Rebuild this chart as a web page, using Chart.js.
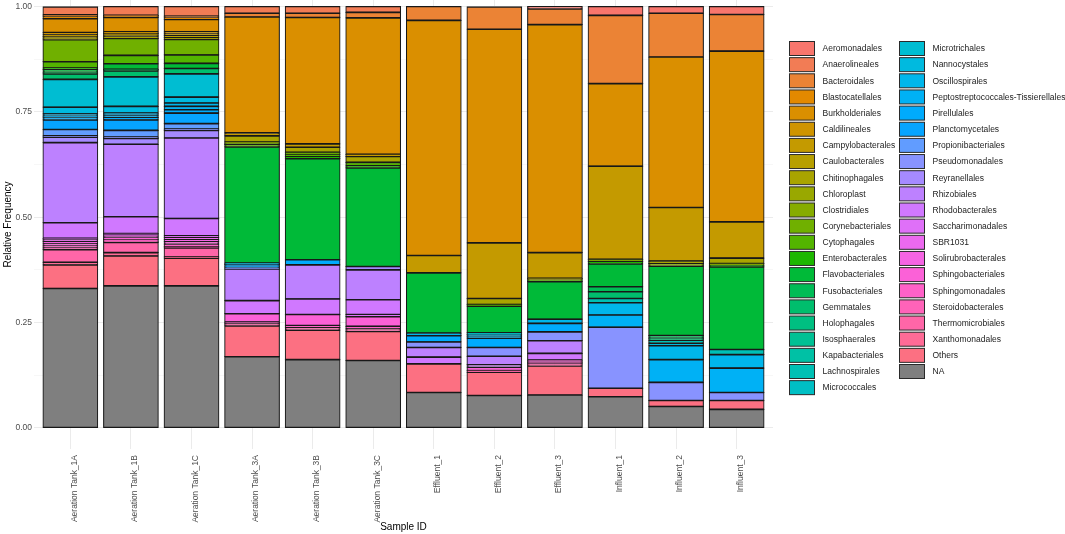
<!DOCTYPE html>
<html>
<head>
<meta charset="utf-8">
<script src="https://cdn.jsdelivr.net/npm/chart.js@4.4.1/dist/chart.umd.min.js"></script>
<style>
html,body{margin:0;padding:0;background:#ffffff;}
#wrap{width:1065px;height:534px;position:relative;overflow:hidden;}
canvas{display:block;}
</style>
</head>
<body>
<div id="wrap"><canvas id="c" width="1065" height="534" style="width:1065px;height:534px"></canvas></div>
<script>
// ---------------- DATA ----------------
const samples = ["Aeration Tank_1A","Aeration Tank_1B","Aeration Tank_1C","Aeration Tank_3A","Aeration Tank_3B","Aeration Tank_3C","Effluent_1","Effluent_2","Effluent_3","Influent_1","Influent_2","Influent_3"];

const yTickValues = [0, 0.25, 0.5, 0.75, 1];
const yTickLabels = ["0.00", "0.25", "0.50", "0.75", "1.00"];
const yMinorValues = [0.125, 0.375, 0.625, 0.875];

//                        1A     1B     1C     3A     3B     3C     E1     E2     E3     I1     I2     I3
const Aeromonadales       = [0,     0,     0,     0,     0,     0,     0,     0,     0.006, 0.021, 0.016, 0.019];
const Anaerolineales      = [0.019, 0.021, 0.023, 0.016, 0.016, 0.014, 0,     0,     0,     0,     0,     0];
const Bacteroidales       = [0.003, 0.002, 0.004, 0.009, 0.010, 0.013, 0.033, 0.053, 0.037, 0.162, 0.104, 0.087];
const Blastocatellales    = [0.006, 0.003, 0.004, 0,     0,     0,     0,     0,     0,     0,     0,     0];
const Burkholderiales     = [0.033, 0.034, 0.029, 0.275, 0.300, 0.324, 0.558, 0.507, 0.541, 0.196, 0.357, 0.405];
const Caldilineales       = [0.005, 0.004, 0.005, 0,     0,     0,     0,     0,     0,     0,     0,     0];
const Campylobacterales   = [0.004, 0.004, 0.004, 0.007, 0.008, 0.005, 0.041, 0.132, 0.061, 0.221, 0.127, 0.086];
const Caulobacterales     = [0.004, 0.004, 0.005, 0,     0,     0,     0,     0,     0,     0,     0,     0];
const Chitinophagales     = [0.004, 0.004, 0.004, 0.014, 0.012, 0.014, 0,     0.014, 0.004, 0,     0.006, 0.013];
const Chloroplast         = [0,     0,     0,     0.003, 0,     0,     0,     0,     0,     0,     0,     0];
const Clostridiales       = [0,     0,     0,     0,     0,     0,     0,     0,     0,     0.005, 0.006, 0.004];
const Corynebacteriales   = [0.052, 0.040, 0.037, 0.004, 0.005, 0,     0,     0,     0,     0,     0,     0];
const Cytophagales        = [0.015, 0.020, 0.020, 0.005, 0.005, 0.008, 0,     0.004, 0.004, 0,     0,     0];
const Enterobacterales    = [0.004, 0,     0,     0,     0.005, 0.005, 0,     0,     0,     0.006, 0,     0.004];
const Flavobacteriales    = [0.006, 0.013, 0.012, 0.276, 0.240, 0.234, 0.143, 0.063, 0.089, 0.054, 0.165, 0.196];
const Fusobacteriales     = [0.004, 0.004, 0,     0,     0,     0,     0,     0,     0,     0.012, 0.006, 0];
const Gemmatales          = [0.013, 0.014, 0.013, 0,     0,     0,     0,     0,     0,     0.016, 0.005, 0];
const Holophagales        = [0,     0,     0,     0,     0,     0,     0,     0,     0,     0,     0,     0];
const Isosphaerales       = [0,     0,     0,     0,     0,     0,     0,     0,     0,     0,     0,     0];
const Kapabacteriales     = [0,     0,     0,     0,     0,     0,     0,     0,     0,     0,     0,     0];
const Lachnospirales      = [0,     0,     0,     0,     0,     0,     0,     0,     0,     0.010, 0.007, 0.012];
const Micrococcales       = [0,     0,     0,     0,     0,     0,     0,     0.004, 0,     0,     0,     0];
const Microtrichales      = [0.066, 0.070, 0.055, 0,     0,     0,     0,     0,     0,     0,     0,     0];
const Nannocystales       = [0.016, 0.016, 0.014, 0.003, 0,     0,     0,     0.004, 0,     0,     0.006, 0];
const Oscillospirales     = [0.005, 0.005, 0.008, 0,     0,     0,     0.006, 0.005, 0.010, 0.029, 0.033, 0.032];
const Peptostreptococcales_Tissierellales = [0.004, 0.005, 0.008, 0, 0, 0, 0, 0, 0, 0.029, 0.054, 0.058];
const Pirellulales        = [0.005, 0.006, 0.008, 0.004, 0.012, 0,     0.015, 0.022, 0.020, 0,     0,     0];
const Planctomycetales    = [0.023, 0.025, 0.025, 0.004, 0,     0,     0,     0,     0,     0,     0,     0];
const Propionibacteriales = [0.015, 0.016, 0.013, 0,     0,     0,     0,     0,     0,     0,     0,     0];
const Pseudomonadales     = [0.003, 0.003, 0.003, 0.003, 0,     0,     0.013, 0.021, 0.021, 0.145, 0.043, 0.019];
const Reyranellales       = [0.013, 0.014, 0.018, 0,     0,     0.008, 0,     0,     0,     0,     0,     0];
const Rhizobiales         = [0.190, 0.172, 0.191, 0.075, 0.081, 0.071, 0.023, 0.020, 0.030, 0,     0,     0];
const Rhodobacterales     = [0.037, 0.040, 0.041, 0.031, 0.037, 0.035, 0.016, 0.006, 0.016, 0,     0,     0];
const Saccharimonadales   = [0.004, 0.003, 0.004, 0,     0,     0.005, 0,     0,     0,     0,     0,     0];
const SBR1031             = [0.004, 0.003, 0.005, 0,     0,     0,     0,     0,     0,     0,     0,     0];
const Solirubrobacterales = [0.005, 0.004, 0.005, 0,     0,     0,     0,     0,     0,     0,     0,     0];
const Sphingobacteriales  = [0.005, 0.004, 0.006, 0.020, 0.026, 0.023, 0,     0.008, 0.005, 0,     0,     0];
const Sphingomonadales    = [0.005, 0.004, 0.006, 0.004, 0.005, 0.006, 0,     0,     0.004, 0,     0,     0];
const Steroidobacterales  = [0.004, 0.003, 0.003, 0,     0,     0,     0,     0,     0,     0,     0,     0];
const Thermomicrobiales   = [0.030, 0.024, 0.021, 0.005, 0.006, 0.006, 0,     0.004, 0.005, 0,     0,     0];
const Xanthomonadales     = [0.006, 0.008, 0.003, 0,     0,     0,     0,     0,     0,     0,     0,     0];
const Others              = [0.056, 0.071, 0.066, 0.073, 0.070, 0.069, 0.068, 0.055, 0.069, 0.020, 0.014, 0.021];
const NA                  = [0.331, 0.337, 0.337, 0.169, 0.162, 0.160, 0.084, 0.077, 0.078, 0.074, 0.051, 0.044];

// legend order (top of stack first)
const taxa = [
  ["Aeromonadales", Aeromonadales], ["Anaerolineales", Anaerolineales], ["Bacteroidales", Bacteroidales],
  ["Blastocatellales", Blastocatellales], ["Burkholderiales", Burkholderiales], ["Caldilineales", Caldilineales],
  ["Campylobacterales", Campylobacterales], ["Caulobacterales", Caulobacterales], ["Chitinophagales", Chitinophagales],
  ["Chloroplast", Chloroplast], ["Clostridiales", Clostridiales], ["Corynebacteriales", Corynebacteriales],
  ["Cytophagales", Cytophagales], ["Enterobacterales", Enterobacterales], ["Flavobacteriales", Flavobacteriales],
  ["Fusobacteriales", Fusobacteriales], ["Gemmatales", Gemmatales], ["Holophagales", Holophagales],
  ["Isosphaerales", Isosphaerales], ["Kapabacteriales", Kapabacteriales], ["Lachnospirales", Lachnospirales],
  ["Micrococcales", Micrococcales], ["Microtrichales", Microtrichales], ["Nannocystales", Nannocystales],
  ["Oscillospirales", Oscillospirales], ["Peptostreptococcales-Tissierellales", Peptostreptococcales_Tissierellales],
  ["Pirellulales", Pirellulales], ["Planctomycetales", Planctomycetales], ["Propionibacteriales", Propionibacteriales],
  ["Pseudomonadales", Pseudomonadales], ["Reyranellales", Reyranellales], ["Rhizobiales", Rhizobiales],
  ["Rhodobacterales", Rhodobacterales], ["Saccharimonadales", Saccharimonadales], ["SBR1031", SBR1031],
  ["Solirubrobacterales", Solirubrobacterales], ["Sphingobacteriales", Sphingobacteriales],
  ["Sphingomonadales", Sphingomonadales], ["Steroidobacterales", Steroidobacterales],
  ["Thermomicrobiales", Thermomicrobiales], ["Xanthomonadales", Xanthomonadales], ["Others", Others],
  ["NA", NA]
];

// ---------------- STYLE ----------------
// ggplot2-like hue palette (hcl, c=100, l=65)
function hcl2hex(h, c, l) {
  const hr = h * Math.PI / 180;
  const U = c * Math.cos(hr), V = c * Math.sin(hr);
  const WY = 100, Wu = 0.1978398, Wv = 0.4683363;
  const Y = WY * (l > 7.999592 ? Math.pow((l + 16) / 116, 3) : l / 903.3);
  const u = U / (13 * l) + Wu, v = V / (13 * l) + Wv;
  const X = 9.0 * Y * u / (4 * v);
  const Z = -X / 3 - 5 * Y + 3 * Y / v;
  const g = t => t > 0.00304 ? 1.055 * Math.pow(t, 1 / 2.4) - 0.055 : 12.92 * t;
  const ch = t => Math.round(Math.min(1, Math.max(0, g(t))) * 255).toString(16).padStart(2, '0');
  return '#' + ch((3.240479 * X - 1.537150 * Y - 0.498535 * Z) / WY)
             + ch((-0.969256 * X + 1.875992 * Y + 0.041556 * Z) / WY)
             + ch((0.055648 * X - 0.204043 * Y + 1.057311 * Z) / WY);
}
const nCol = taxa.length - 1; // NA is grey
const colors = taxa.map((t, i) => i < nCol ? hcl2hex(15 + 360 * i / nCol, 100, 65) : '#7f7f7f');

const FONT = '"Liberation Sans", Arial, Helvetica, sans-serif';
const isMajor = v => yTickValues.some(m => Math.abs(m - v) < 1e-9);

// datasets: bottom of stack first
const datasets = taxa.map((t, i) => ({
  label: t[0],
  data: t[1].map((v, j) => ({ x: j + 1, y: v === 0 ? null : v })),
  backgroundColor: colors[i],
  borderColor: '#181818',
  borderWidth: { left: 1.1, right: 1.1, top: 1.4, bottom: 1.4 },
  borderSkipped: false,
  inflateAmount: 0.6,
  barPercentage: 0.9,
  categoryPercentage: 1.0
})).reverse();

const sideLegend = {
  id: 'sideLegend',
  afterDraw(chart) {
    const ctx = chart.ctx;
    const items = chart.data.datasets.slice().reverse();
    ctx.save();
    ctx.font = '8.5px ' + FONT;
    ctx.textBaseline = 'middle';
    ctx.textAlign = 'left';
    items.forEach((ds, i) => {
      const col = i < 22 ? 0 : 1;
      const row = col ? i - 22 : i;
      const bx = col ? 899.5 : 789.5;
      const cy = 48.5 + row * 16.15;
      ctx.fillStyle = ds.backgroundColor;
      ctx.fillRect(bx, cy - 7, 25, 14);
      ctx.strokeStyle = '#2a2a2a';
      ctx.lineWidth = 1;
      ctx.strokeRect(bx, cy - 7, 25, 14);
      ctx.fillStyle = '#222222';
      ctx.fillText(ds.label, bx + 33, cy + 0.5);
    });
    ctx.restore();
  }
};

new Chart(document.getElementById('c'), {
  type: 'bar',
  data: { datasets },
  plugins: [sideLegend],
  options: {
    responsive: false,
    animation: false,
    devicePixelRatio: 1,
    layout: { padding: { left: 0, right: 292, top: 0, bottom: 0 } },
    plugins: { legend: { display: false }, tooltip: { enabled: false } },
    scales: {
      x: {
        type: 'linear',
        stacked: true,
        offset: false,
        min: 0.4,
        max: 12.6,
        afterBuildTicks: s => { s.ticks = samples.map((n, i) => ({ value: i + 1 })); },
        afterFit: s => { s.height = 85; s.paddingLeft = 0; s.paddingRight = 0; },
        grid: { color: '#ebebeb', lineWidth: 1, drawTicks: false, offset: false },
        border: { display: false },
        ticks: {
          autoSkip: false,
          minRotation: 90,
          maxRotation: 90,
          padding: 6,
          labelOffset: 4,
          color: '#4d4d4d',
          font: { family: FONT, size: 8.5 },
          callback: v => samples[Math.round(v) - 1]
        },
        title: {
          display: true,
          text: 'Sample ID',
          color: '#000000',
          font: { family: FONT, size: 10 },
          padding: { top: 0, bottom: 1 }
        }
      },
      y: {
        stacked: true,
        min: -0.05,
        max: 1.0154,
        afterBuildTicks: s => {
          s.ticks = yTickValues.concat(yMinorValues).sort((a, b) => a - b).map(v => ({ value: v }));
        },
        afterFit: s => { s.width = 34; s.paddingTop = 0; s.paddingBottom = 0; },
        grid: {
          drawTicks: false,
          color: c => (c.tick && isMajor(c.tick.value)) ? '#ebebeb' : '#f3f3f3',
          lineWidth: c => (c.tick && isMajor(c.tick.value)) ? 1 : 0.7
        },
        border: { display: false },
        ticks: {
          padding: 2,
          color: '#4d4d4d',
          font: { family: FONT, size: 8.5 },
          callback: v => {
            const k = yTickValues.findIndex(m => Math.abs(m - v) < 1e-9);
            return k >= 0 ? yTickLabels[k] : '';
          }
        },
        title: {
          display: true,
          text: 'Relative Frequency',
          color: '#000000',
          font: { family: FONT, size: 10 },
          padding: { top: 2, bottom: 0 }
        }
      }
    }
  }
});
</script>
</body>
</html>
